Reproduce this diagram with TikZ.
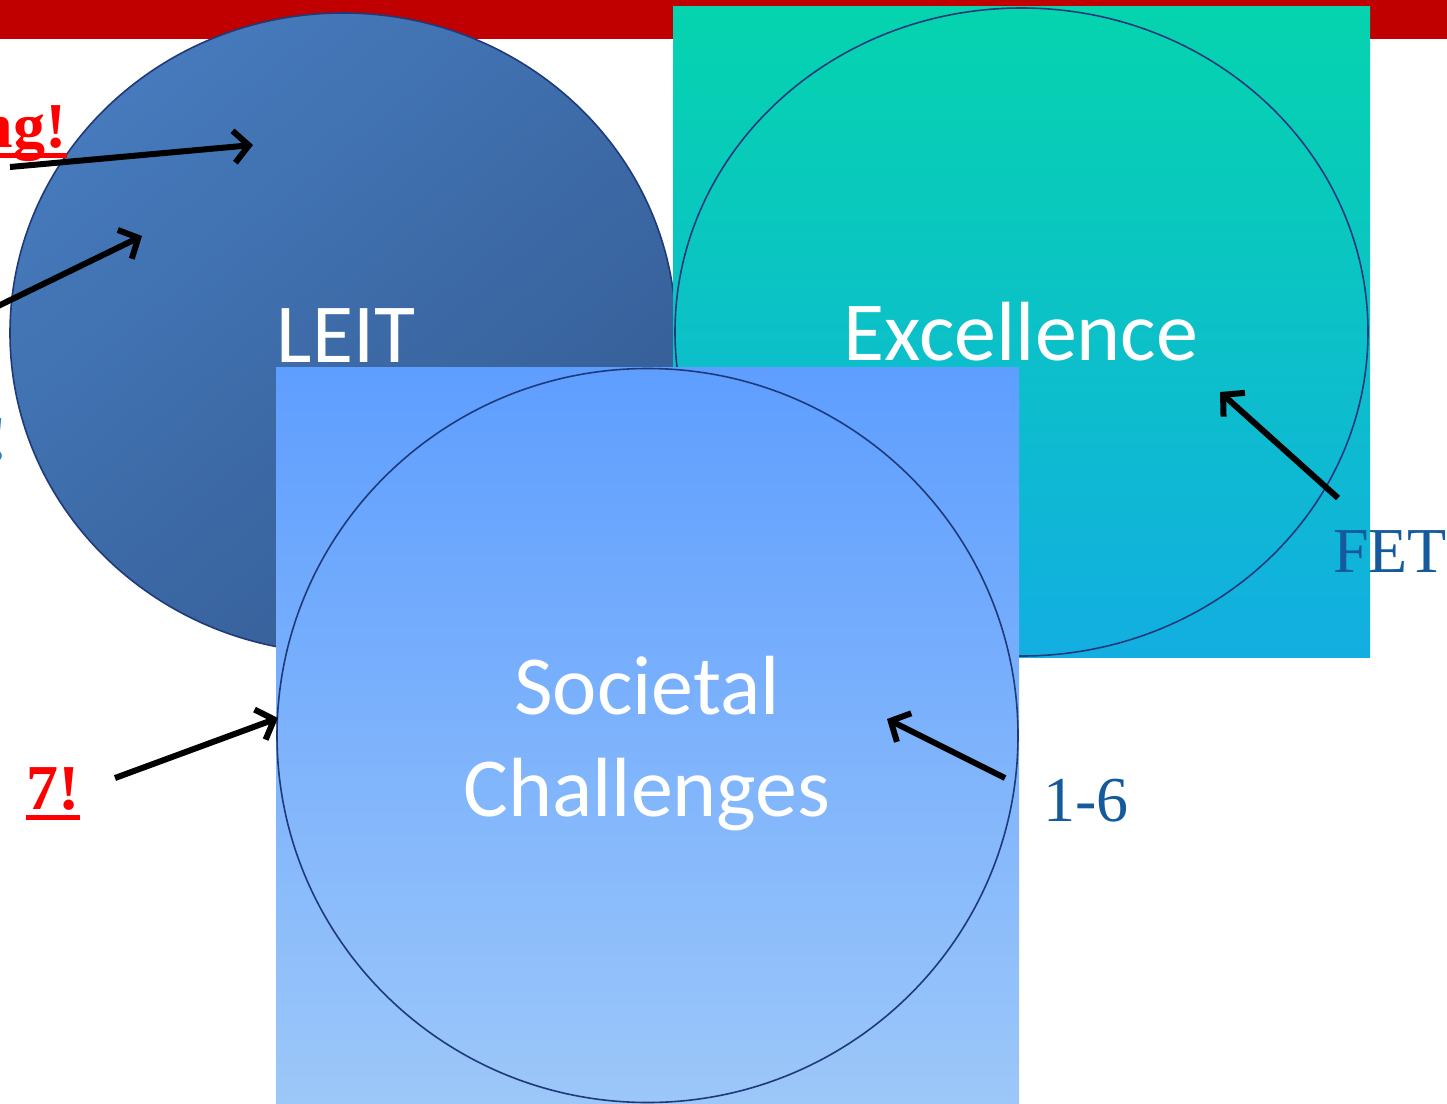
\documentclass[tikz,border=0pt]{standalone}
\usepackage{fontspec}
\setmainfont{Liberation Serif}
\newfontfamily\calib{Carlito}
\usetikzlibrary{shapes.geometric,arrows.meta}
\definecolor{barred}{HTML}{C00000}
\definecolor{rimnavy}{HTML}{1F3A7A}
\definecolor{labblue}{HTML}{155A9C}
\definecolor{exclbl}{HTML}{2E80C8}
\definecolor{leittop}{RGB}{70,122,188}
\definecolor{leitbot}{RGB}{52,92,148}
\definecolor{exctop}{RGB}{5,212,174}
\definecolor{excmid}{RGB}{33,212,224}
\definecolor{excbot}{RGB}{18,174,225}
\definecolor{soctop}{RGB}{94,158,255}
\definecolor{socbot}{RGB}{156,199,249}
\newcommand\myul[1]{\setbox0\hbox{#1}\rlap{\rule[-11pt]{\wd0}{5pt}}\box0}
\tikzset{
  bubble/.style={ellipse, draw=rimnavy, line width=1.6pt, inner sep=0pt},
  bigtext/.style={text=white, font=\calib\fontsize{84}{100}\selectfont, inner sep=0pt, anchor=base},
  redlab/.style={text=red, font=\bfseries\fontsize{64}{70}\selectfont, inner sep=0pt},
  bluelab/.style={text=labblue, font=\fontsize{64}{70}\selectfont, inner sep=0pt},
  pointer/.style={draw=black, line width=6pt, -{Straight Barb[length=15pt,width=32pt,line width=6pt]}}
}
\begin{document}
\begin{tikzpicture}[x=1pt,y=-1pt]
\useasboundingbox (0,0) rectangle (1447,1103);
\fill[white] (0,0) rectangle (1447,1103);
% red bar
\fill[barred] (0,0) rectangle (1447,39);
% LEIT circle
\node[bubble, minimum width=666pt, minimum height=640pt, top color=leittop, bottom color=leitbot, shading angle=40] (leit) at (343,333) {};
% Excellence square and ellipse
\shade[top color=exctop, middle color=excmid, bottom color=excbot] (673,6) rectangle (1370,657);
\node[bubble, minimum width=693pt, minimum height=648pt] (exc) at (1021.5,332) {};
% Societal square and ellipse
\shade[top color=soctop, bottom color=socbot] (276,367) rectangle (1019,1103);
\node[bubble, minimum width=741pt, minimum height=734pt] (soc) at (647.5,735.5) {};
% big labels
\node[bigtext] (tleit) at (346,362) {LEIT};
\node[bigtext] (texc) at (1021,360) {Excellence};
\node[bigtext] (tsoc1) at (647,714) {Societal};
\node[bigtext] (tsoc2) at (647,816) {Challenges};
% side labels
\node[redlab, anchor=base east] (ng) at (67,147) {\myul{ng!}};
\node[redlab, anchor=base west] (seven) at (26,809) {\myul{7!}};
\node[text=exclbl, font=\bfseries\fontsize{64}{70}\selectfont, inner sep=0pt, anchor=base east] (excl) at (8,460) {!};
\node[bluelab, anchor=base west] (fet) at (1333,572) {FET};
\node[bluelab, anchor=base west] (onesix) at (1043,821) {1-6};
% arrow end points
\coordinate (a1s) at (10,167);
\coordinate (a1e) at (253,145);
\coordinate (a2s) at (-6,308);
\coordinate (a2e) at (142,236);
\coordinate (a3s) at (115,778);
\coordinate (a3e) at (278,718);
\coordinate (a4s) at (1005,778);
\coordinate (a4e) at (887,719);
\coordinate (a5s) at (1338,498);
\coordinate (a5e) at (1220,392);
\draw[pointer] (a1s) -- (a1e);
\draw[pointer] (a2s) -- (a2e);
\draw[pointer] (a3s) -- (a3e);
\draw[pointer] (a4s) -- (a4e);
\draw[pointer] (a5s) -- (a5e);
\end{tikzpicture}
\end{document}
